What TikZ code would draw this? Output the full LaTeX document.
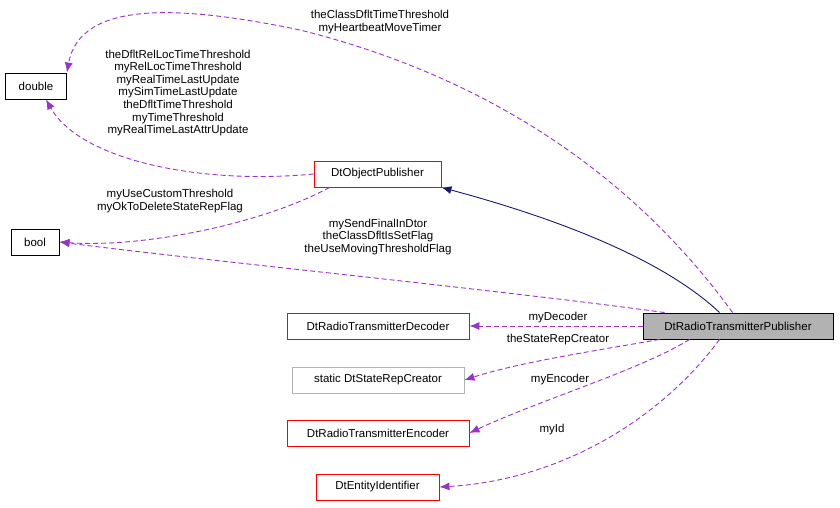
\documentclass[tikz,border=0pt]{standalone}
\usepackage{fontspec}
\setmainfont{Liberation Sans}
\usetikzlibrary{arrows.meta}
\definecolor{usecol}{RGB}{153,50,204}
\definecolor{inhcol}{RGB}{25,25,112}
\begin{document}
\begin{tikzpicture}[x=1pt,y=-1pt,
    font=\fontsize{11.5}{12.6}\selectfont,
    box/.style={draw=black,fill=white,inner sep=0pt,minimum height=26pt,line width=0.9pt},
    redbox/.style={box,draw=red},
    greybox/.style={box,draw=black!30},
    use/.style={draw=usecol,line width=0.9pt,dash pattern=on 5pt off 3pt,-{Latex[length=10pt,width=8pt]}},
    inh/.style={draw=inhcol,line width=0.9pt,-{Latex[length=10pt,width=8pt]}},
    lbl/.style={align=center,inner sep=0pt}]
    \useasboundingbox (0,0) rectangle (840,508);
    % % ----- nodes ----- % %
    \node[box,minimum width=61pt] (double) at (36,86) {double};
    \node[box,minimum width=48pt] (bool) at (35,242) {bool};
    \node[redbox,minimum width=127pt] (objpub) at (377.5,174) {DtObjectPublisher};
    \node[box,fill=black!30,minimum width=190pt] (rtpub) at (738,326) {DtRadioTransmitterPublisher};
    \node[redbox,minimum width=182pt] (dec) at (378,326) {DtRadioTransmitterDecoder};
    \node[greybox,minimum width=172pt] (src) at (378,380) {static DtStateRepCreator};
    \node[redbox,minimum width=182pt] (enc) at (378,433) {DtRadioTransmitterEncoder};
    \node[redbox,minimum width=123pt] (eid) at (377.5,487) {DtEntityIdentifier};
    % % ----- connectors ----- % %
    \draw[inh] (rtpub.north west) ++(77,0) coordinate (p1) .. controls (680,275) and (600,230) .. (objpub.south east);
    \draw[use] (rtpub.north west) ++(90,0) coordinate (p2) .. controls (600,130) and (420,60) .. (300,30) .. controls (180,5) and (80,0) .. (double.north east);
    \draw[use] (objpub.west) .. controls (200,185) and (80,160) .. ([xshift=10pt]double.south);
    \draw[use] (objpub.south west) ++(16,0) coordinate (p3) .. controls (260,225) and (140,248) .. (bool.east);
    \draw[use] (rtpub.north west) ++(22,0) coordinate (p4) .. controls (500,290) and (200,260) .. (bool.east);
    \draw[use] (rtpub.west) -- (dec.east);
    \draw[use] (rtpub.south west) ++(17,0) coordinate (p5) .. controls (600,350) and (520,362) .. (src.east);
    \draw[use] (rtpub.south west) ++(47,0) coordinate (p6) .. controls (640,370) and (540,400) .. (enc.east);
    \draw[use] (rtpub.south west) ++(77,0) coordinate (p7) .. controls (660,420) and (560,480) .. (eid.east);
    % % ----- labels ----- % %
    \node[lbl] at (380,22) {theClassDfltTimeThreshold\\myHeartbeatMoveTimer};
    \node[lbl] at (178,93) {theDfltRelLocTimeThreshold\\myRelLocTimeThreshold\\myRealTimeLastUpdate\\mySimTimeLastUpdate\\theDfltTimeThreshold\\myTimeThreshold\\myRealTimeLastAttrUpdate};
    \node[lbl] at (170,201) {myUseCustomThreshold\\myOkToDeleteStateRepFlag};
    \node[lbl] at (378,237) {mySendFinalInDtor\\theClassDfltIsSetFlag\\theUseMovingThresholdFlag};
    \node[lbl] at (558,318) {myDecoder};
    \node[lbl] at (558,340) {theStateRepCreator};
    \node[lbl] at (560,380) {myEncoder};
    \node[lbl] at (552,430) {myId};
\end{tikzpicture}
\end{document}
